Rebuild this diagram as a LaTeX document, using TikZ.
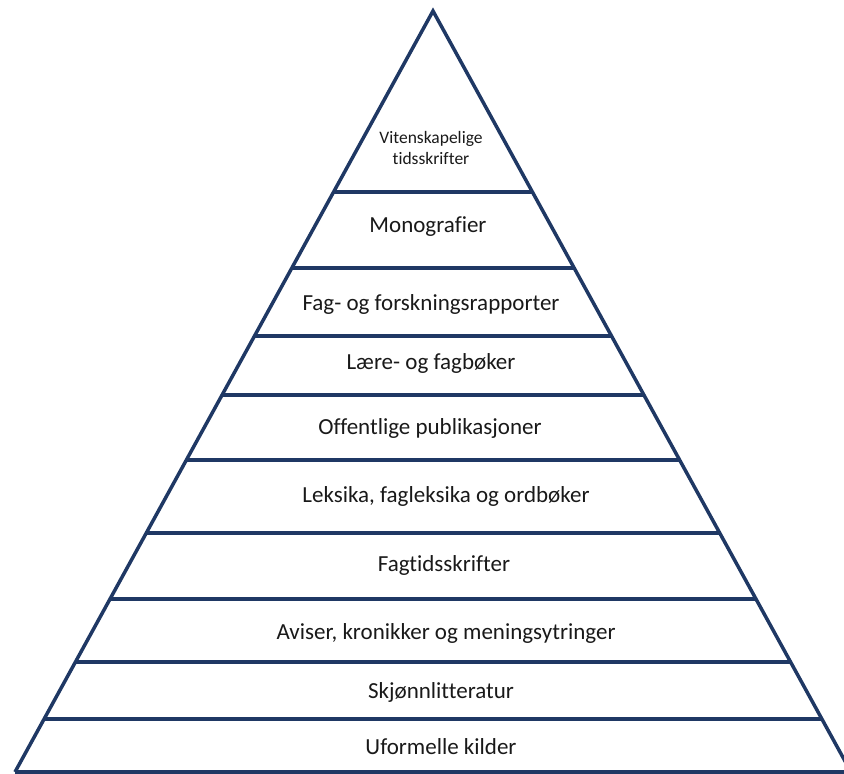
\documentclass[tikz,border=0pt]{standalone}
\usepackage{fontspec}
\setmainfont{Carlito}[Ligatures=NoCommon]
\usetikzlibrary{calc}
\definecolor{pyrblue}{HTML}{1F3864}

\begin{document}
\begin{tikzpicture}[x=1pt,y=-1pt,
  lagtekst/.style={font=\fontsize{23}{26}\selectfont, text=black!90},
  skille/.style={pyrblue, line width=4.5pt}]
\useasboundingbox (0,0) rectangle (844,774);

% hjørner
\coordinate (topp) at (433,11);
\coordinate (vbunn) at (15,772);
\coordinate (hbunn) at (851,772);

% skillelinjer
\foreach \y in {192,268,336,395,460,533,599,662,719}{
  \pgfmathsetmacro{\t}{(\y-11)/761}
  \draw[skille] ($(topp)!\t!(vbunn)$) -- ($(topp)!\t!(hbunn)$);
}

% trekant
\draw[pyrblue, line width=3.5pt, line join=miter] (vbunn) -- (topp) -- (hbunn);
\draw[pyrblue, line width=4pt] (vbunn) -- (hbunn);

% tekst
\node[align=center, text=black!90, font=\fontsize{17.5}{21}\selectfont] (vit) at (431,148) {Vitenskapelige\\tidsskrifter};
\node[lagtekst] (mono) at (428,227) {Monografier};
\node[lagtekst] (rapp) at (431,304) {Fag- og forskningsrapporter};
\node[lagtekst] (laere) at (431,363) {Lære- og fagbøker};
\node[lagtekst] (off) at (430,428) {Offentlige publikasjoner};
\node[lagtekst] (leks) at (446,496) {Leksika, fagleksika og ordbøker};
\node[lagtekst] (fagt) at (444,565) {Fagtidsskrifter};
\node[lagtekst] (avis) at (446,633) {Aviser, kronikker og meningsytringer};
\node[lagtekst] (skj) at (441,692) {Skjønnlitteratur};
\node[lagtekst] (ufo) at (441,747) {Uformelle kilder};

\end{tikzpicture}
\end{document}
